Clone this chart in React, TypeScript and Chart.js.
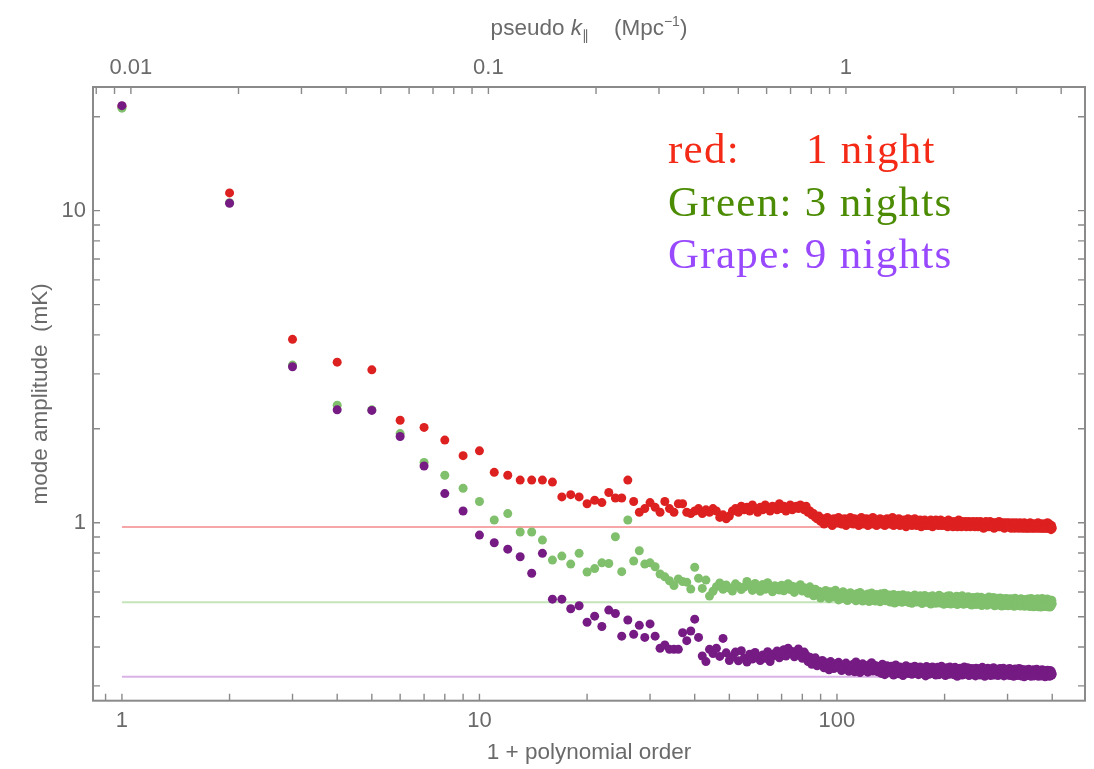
import React, { useEffect, useRef } from "react";
import { Chart, registerables } from "chart.js";

Chart.register(...registerables);

// mode amplitude (mK) for 1 + polynomial order = 1, 2, 3, ... 400
const RED_AMP = [
  21.6, 11.4, 3.87, 3.27, 3.09, 2.13, 2.02, 1.84, 1.64, 1.70,
  1.45, 1.42, 1.37, 1.37, 1.37, 1.35, 1.21, 1.23, 1.21, 1.15,
  1.18, 1.16, 1.25, 1.20, 1.20, 1.37, 1.17, 1.08, 1.11, 1.16,
  1.12, 1.08, 1.17, 1.11, 1.08, 1.15, 1.15, 1.08, 1.07,
  1.09, 1.11, 1.07, 1.10, 1.08, 1.11, 1.09, 1.04, 1.06, 1.03,
  1.05, 1.09, 1.11, 1.08, 1.13, 1.10, 1.12, 1.09, 1.14, 1.11,
  1.08, 1.12, 1.10, 1.14, 1.11, 1.09, 1.13, 1.12, 1.10, 1.15,
  1.11, 1.13, 1.09, 1.12, 1.14, 1.10, 1.12, 1.13, 1.11, 1.14,
  1.12, 1.10, 1.13, 1.08, 1.09, 1.06, 1.07, 1.04, 1.03, 1.05,
  1.01, 1.03, 0.99, 1.02, 1.04, 1.00, 1.02, 0.98, 1.03, 1.01,
  1.00, 1.04, 1.02, 0.99, 1.01, 1.03, 0.98, 1.02, 1.00, 1.04,
  1.01, 0.99, 1.03, 1.00, 1.02, 0.98, 1.01, 1.04, 0.99, 1.02,
  1.00, 1.03, 0.98, 1.01, 1.02, 0.99, 1.04, 1.00, 1.01, 0.98,
  1.02, 1.00, 1.03, 0.99, 1.01, 1.02, 0.98, 1.00, 1.03, 1.01,
  0.99, 1.02, 1.00, 1.04, 0.98, 1.01, 0.99, 1.02, 1.00, 1.03,
  0.98, 1.01, 1.00, 0.99, 1.02, 1.00, 0.97, 1.01, 1.03, 0.99,
  1.00, 1.02, 0.98, 1.01, 0.99, 1.03, 1.00, 0.98, 1.01, 1.00,
  0.99, 1.02, 0.97, 1.00, 1.01, 0.99, 1.02, 0.98, 1.00, 1.01,
  0.98, 1.01, 0.99, 1.02, 1.00, 0.97, 1.01, 0.99, 1.00, 1.02,
  0.99, 1.00, 0.98, 1.01, 0.99, 1.02, 0.98, 1.00, 1.01, 0.99,
  0.98, 1.01, 0.99, 1.00, 0.97, 1.02, 0.99, 0.98, 1.00, 1.01,
  0.99, 0.97, 1.00, 0.98, 1.01, 0.99, 1.00, 0.97, 0.99, 1.02,
  0.98, 1.00, 0.99, 0.97, 1.01, 0.98, 1.00, 0.99, 0.98, 1.01,
  0.97, 0.99, 1.00, 0.98, 1.01, 0.99, 0.97, 1.00, 0.98, 0.99,
  1.01, 0.98, 0.99, 0.97, 1.00, 0.98, 1.01, 0.99, 0.97, 1.00,
  0.98, 0.99, 1.01, 0.97, 0.99, 1.00, 0.98, 0.96, 1.00, 0.99,
  0.98, 1.01, 0.97, 0.99, 0.98, 1.00, 0.97, 0.99, 1.01, 0.98,
  0.99, 0.97, 1.00, 0.98, 0.99, 0.96, 1.00, 0.98, 0.99, 0.97,
  1.00, 0.98, 0.99, 0.97, 1.01, 0.98, 0.97, 0.99, 1.00, 0.98,
  0.97, 0.99, 0.98, 1.00, 0.96, 0.99, 0.98, 0.97, 1.00, 0.98,
  0.99, 0.97, 0.98, 1.00, 0.97, 0.99, 0.98, 0.96, 0.99, 0.98,
  1.00, 0.97, 0.99, 0.98, 0.96, 0.99, 0.97, 1.00, 0.98, 0.97,
  0.99, 0.98, 0.96, 0.99, 0.97, 1.00, 0.98, 0.97, 0.99, 0.96,
  0.98, 0.99, 0.97, 0.98, 1.00, 0.96, 0.98, 0.99, 0.97, 0.98,
  0.96, 0.99, 0.98, 0.97, 0.99, 0.96, 0.98, 1.00, 0.97, 0.98,
  0.99, 0.96, 0.98, 0.97, 0.99, 0.98, 0.96, 0.97, 0.99, 0.98,
  0.97, 0.99, 0.96, 0.98, 0.97, 1.00, 0.97, 0.98, 0.96, 0.99,
  0.98, 0.97, 0.99, 0.96, 0.98, 0.97, 0.99, 0.96, 0.98, 0.97,
  0.99, 0.97, 0.96, 0.98, 0.97, 0.99, 0.96, 0.98, 1.00, 0.97,
  0.96, 0.98, 0.97, 0.99, 0.96, 0.98, 0.97, 0.95, 0.98, 0.97,
  0.96,
];

const GREEN_AMP = [
  21.3, 10.6, 3.20, 2.38, 2.30, 1.93, 1.56, 1.42, 1.29, 1.17,
  1.02, 1.07, 0.934, 0.934, 0.88, 0.759, 0.782, 0.737, 0.798, 0.695,
  0.713, 0.744, 0.74, 0.902, 0.697, 1.02, 0.754, 0.813, 0.737, 0.744,
  0.723, 0.685, 0.671, 0.652, 0.629,
  0.66, 0.648, 0.645, 0.613, 0.72, 0.664, 0.616, 0.655, 0.582,
  0.603, 0.624, 0.641, 0.612, 0.632,
  0.618, 0.604, 0.637, 0.626, 0.611, 0.622, 0.648, 0.629, 0.607, 0.639,
  0.621, 0.603, 0.634, 0.612, 0.642, 0.619, 0.601, 0.628, 0.623, 0.609,
  0.631, 0.605, 0.617, 0.638, 0.611, 0.626, 0.598, 0.622, 0.613, 0.633,
  0.604, 0.619, 0.611, 0.594, 0.623, 0.601, 0.583, 0.612, 0.591, 0.603,
  0.574, 0.598, 0.582, 0.607, 0.589, 0.571, 0.601, 0.579, 0.593, 0.608,
  0.584, 0.566, 0.592, 0.571, 0.601, 0.578, 0.588, 0.563, 0.583, 0.597,
  0.572, 0.589, 0.578, 0.562, 0.593, 0.569, 0.598, 0.576, 0.561, 0.587,
  0.579, 0.568, 0.591, 0.559, 0.581, 0.596, 0.566, 0.577, 0.561, 0.589,
  0.571, 0.583, 0.558, 0.592, 0.567, 0.579, 0.594, 0.562, 0.576, 0.569,
  0.587, 0.557, 0.578, 0.566, 0.589, 0.553, 0.575, 0.568, 0.558, 0.586,
  0.569, 0.579, 0.556, 0.588, 0.565, 0.559, 0.577, 0.571, 0.584, 0.555,
  0.576, 0.566, 0.552, 0.581, 0.563, 0.587, 0.568, 0.557, 0.579, 0.572,
  0.558, 0.583, 0.567, 0.551, 0.576, 0.562, 0.585, 0.569, 0.556, 0.578,
  0.566, 0.555, 0.579, 0.549, 0.571, 0.584, 0.558, 0.575, 0.564, 0.552,
  0.577, 0.561, 0.568, 0.586, 0.553, 0.572, 0.579, 0.557, 0.567, 0.548,
  0.571, 0.578, 0.559, 0.551, 0.582, 0.566, 0.555, 0.584, 0.549, 0.569,
  0.562, 0.576, 0.568, 0.552, 0.574, 0.558, 0.581, 0.547, 0.567, 0.563,
  0.579, 0.551, 0.569, 0.557, 0.583, 0.565, 0.548, 0.572, 0.561, 0.577,
  0.553, 0.568, 0.559, 0.579, 0.562, 0.549, 0.571, 0.564, 0.545, 0.574,
  0.558, 0.576, 0.551, 0.567, 0.561, 0.547, 0.573, 0.578, 0.552, 0.563,
  0.569, 0.548, 0.562, 0.577, 0.543, 0.566, 0.571, 0.553, 0.568, 0.559,
  0.551, 0.572, 0.557, 0.544, 0.569, 0.561, 0.578, 0.549, 0.563, 0.567,
  0.552, 0.564, 0.571, 0.548, 0.576, 0.558, 0.542, 0.568, 0.561, 0.55,
  0.573, 0.557, 0.545, 0.569, 0.553, 0.562, 0.574, 0.546, 0.559, 0.541,
  0.565, 0.571, 0.549, 0.563, 0.543, 0.57, 0.556, 0.551, 0.572, 0.548,
  0.561, 0.542, 0.568, 0.553, 0.564, 0.547, 0.571, 0.544, 0.559, 0.552,
  0.569, 0.546, 0.562, 0.54, 0.557, 0.573, 0.549, 0.563, 0.545, 0.558,
  0.551, 0.567, 0.543, 0.56, 0.548, 0.565, 0.541, 0.571, 0.552, 0.559,
  0.544, 0.562, 0.55, 0.568, 0.553, 0.54, 0.563, 0.547, 0.558, 0.545,
  0.565, 0.549, 0.57, 0.542, 0.561, 0.551, 0.539, 0.566, 0.548, 0.572,
  0.547, 0.541, 0.563, 0.552, 0.569, 0.538, 0.555, 0.561, 0.543, 0.564,
  0.549, 0.567, 0.54, 0.556, 0.571, 0.546, 0.538, 0.562, 0.553, 0.541,
  0.565, 0.548, 0.537, 0.563, 0.551, 0.572, 0.54, 0.554, 0.566, 0.542,
  0.557, 0.562, 0.539, 0.551, 0.568, 0.543, 0.555, 0.57, 0.538, 0.552,
  0.563, 0.54, 0.556, 0.566, 0.537, 0.549, 0.561, 0.541, 0.553, 0.564,
  0.55,
];

const GRAPE_AMP = [
  21.7, 10.56, 3.16, 2.30, 2.29, 1.89, 1.52, 1.24, 1.09, 0.913,
  0.863, 0.823, 0.778, 0.689, 0.798, 0.569, 0.569, 0.530, 0.542, 0.480,
  0.502, 0.465, 0.525, 0.512, 0.433, 0.488, 0.439, 0.469, 0.429, 0.474,
  0.433, 0.396, 0.406, 0.393, 0.393, 0.393, 0.444, 0.419, 0.45, 0.491,
  0.429, 0.374, 0.359, 0.393, 0.381, 0.396, 0.373, 0.426, 0.383, 0.362,
  0.372, 0.385, 0.361, 0.389, 0.368, 0.358, 0.379, 0.366, 0.384,
  0.371, 0.362, 0.377, 0.368, 0.386, 0.359, 0.373, 0.381, 0.388, 0.369,
  0.378, 0.392, 0.374, 0.396, 0.381, 0.387, 0.372, 0.383, 0.394, 0.379,
  0.368, 0.385, 0.376, 0.359, 0.371, 0.352, 0.364, 0.369, 0.348, 0.357,
  0.351, 0.362, 0.343, 0.356, 0.349, 0.338, 0.359, 0.347, 0.341, 0.353,
  0.344, 0.357, 0.348, 0.336, 0.351, 0.342, 0.355, 0.339, 0.334, 0.349,
  0.341, 0.352, 0.333, 0.358, 0.343, 0.347, 0.331, 0.345, 0.353, 0.337,
  0.348, 0.339, 0.332, 0.351, 0.343, 0.356, 0.335, 0.341, 0.349, 0.338,
  0.333, 0.346, 0.34, 0.329, 0.352, 0.337, 0.326, 0.344, 0.348, 0.335,
  0.341, 0.331, 0.347, 0.338, 0.325, 0.343, 0.35, 0.334, 0.339, 0.328,
  0.345, 0.333, 0.34, 0.324, 0.342, 0.336, 0.348, 0.332, 0.329, 0.341,
  0.337, 0.344, 0.327, 0.339, 0.333, 0.347, 0.33, 0.336, 0.343, 0.326,
  0.338, 0.345, 0.331, 0.34, 0.328, 0.342, 0.335, 0.323, 0.346, 0.334,
  0.339, 0.327, 0.343, 0.332, 0.337, 0.345, 0.329, 0.336, 0.341, 0.325,
  0.333, 0.344, 0.338, 0.326, 0.34, 0.331, 0.347, 0.335, 0.328, 0.342,
  0.336, 0.324, 0.339, 0.343, 0.33, 0.337, 0.327, 0.345, 0.334, 0.329,
  0.341, 0.332, 0.326, 0.338, 0.344, 0.331, 0.335, 0.322, 0.339, 0.336,
  0.328, 0.342, 0.333, 0.337, 0.325, 0.34, 0.331, 0.345, 0.329, 0.336,
  0.338, 0.327, 0.343, 0.332, 0.324, 0.339, 0.335, 0.33, 0.341, 0.326,
  0.334, 0.34, 0.329, 0.337, 0.323, 0.342, 0.331, 0.336, 0.327, 0.339,
  0.333, 0.325, 0.341, 0.336, 0.329, 0.344, 0.328, 0.334, 0.338, 0.322,
  0.336, 0.33, 0.339, 0.326, 0.342, 0.333, 0.327, 0.337, 0.331, 0.324,
  0.34, 0.332, 0.328, 0.336, 0.343, 0.325, 0.335, 0.33, 0.338, 0.327,
  0.333, 0.339, 0.324, 0.331, 0.337, 0.329, 0.341, 0.326, 0.334, 0.336,
  0.328, 0.335, 0.342, 0.323, 0.331, 0.338, 0.327, 0.334, 0.33, 0.339,
  0.325, 0.333, 0.337, 0.329, 0.341, 0.324, 0.332, 0.336, 0.328, 0.335,
  0.331, 0.338, 0.322, 0.334, 0.329, 0.34, 0.326, 0.333, 0.337, 0.324,
  0.332, 0.328, 0.336, 0.341, 0.325, 0.331, 0.335, 0.323, 0.339, 0.33,
  0.327, 0.334, 0.329, 0.337, 0.321, 0.333, 0.338, 0.326, 0.331, 0.335,
  0.324, 0.336, 0.33, 0.328, 0.339, 0.325, 0.333, 0.329, 0.336, 0.322,
  0.331, 0.337, 0.326, 0.334, 0.329, 0.338, 0.323, 0.332, 0.335, 0.327,
  0.333, 0.325, 0.339, 0.328, 0.331, 0.336, 0.322, 0.334, 0.329, 0.337,
  0.326, 0.332, 0.335, 0.323, 0.33, 0.338, 0.327, 0.331, 0.334, 0.324,
  0.329, 0.336, 0.321, 0.333, 0.328, 0.335, 0.325, 0.331, 0.337, 0.326,
  0.332, 0.327, 0.334, 0.322, 0.33, 0.336, 0.324, 0.329, 0.333, 0.325,
  0.328,
];

// horizontal reference levels (mK): red, green, grape
const NOISE_LEVELS = [0.969, 0.556, 0.321];
const NOISE_X_RANGE = [1, 400];

const X_TICK_LABELS = [1, 10, 100];
const Y_TICK_LABELS = [1, 10];
const K_TICK_LABELS = [0.01, 0.1, 1];

const X_RANGE = [0.83, 494];
const Y_RANGE = [0.269, 24.9];
const K_PER_ORDER = 0.00944;

const LEGEND_LINES = [
  { left: "red:", right: "1 night", color: "#f42a17" },
  { left: "Green: 3 nights", right: "", color: "#4c8c04" },
  { left: "Grape: 9 nights", right: "", color: "#9848fd" },
];

const SANS = '"Liberation Sans", Arial, Helvetica, sans-serif';
const SERIF = '"Liberation Serif", "Times New Roman", serif';
const TEXT_GRAY = "#6a6a6a";
const FRAME_GRAY = "#8a8a8a";

function decadeTicks(min: number, max: number): number[] {
  const out: number[] = [];
  const d0 = Math.floor(Math.log10(min));
  const d1 = Math.ceil(Math.log10(max));
  for (let d = d0; d <= d1; d++) {
    for (let m = 1; m <= 9; m++) {
      const v = Number((m * Math.pow(10, d)).toPrecision(6));
      if (v >= min && v <= max) out.push(v);
    }
  }
  return out;
}

const labelIf = (labels: number[]) => (value: number) =>
  labels.some((l) => Math.abs(l - value) / l < 1e-6) ? String(value) : "";

const toPoints = (arr: number[]) => arr.map((y, i) => ({ x: i + 1, y }));
const levelLine = (y: number) => NOISE_X_RANGE.map((x) => ({ x, y }));

const framePlugin = {
  id: "mmaFrame",
  afterDraw(chart: any) {
    const { ctx, chartArea: a, scales } = chart;
    ctx.save();
    const L = 7;
    ctx.strokeStyle = FRAME_GRAY;
    ctx.lineWidth = 1.4;
    ctx.beginPath();
    const inside = (p: number, lo: number, hi: number) => p >= lo - 0.5 && p <= hi + 0.5;
    for (const t of scales.x.ticks) {
      const p = scales.x.getPixelForValue(t.value);
      if (!inside(p, a.left, a.right)) continue;
      ctx.moveTo(p, a.bottom);
      ctx.lineTo(p, a.bottom - L);
    }
    for (const t of scales.x2.ticks) {
      const p = scales.x2.getPixelForValue(t.value);
      if (!inside(p, a.left, a.right)) continue;
      ctx.moveTo(p, a.top);
      ctx.lineTo(p, a.top + L);
    }
    for (const t of scales.y.ticks) {
      const p = scales.y.getPixelForValue(t.value);
      if (!inside(p, a.top, a.bottom)) continue;
      ctx.moveTo(a.left, p);
      ctx.lineTo(a.left + L, p);
      ctx.moveTo(a.right, p);
      ctx.lineTo(a.right - L, p);
    }
    ctx.stroke();
    ctx.lineWidth = 2;
    ctx.strokeRect(a.left, a.top, a.right - a.left, a.bottom - a.top);

    // top axis title: pseudo k‖ (Mpc^-1)
    ctx.fillStyle = TEXT_GRAY;
    ctx.textBaseline = "alphabetic";
    ctx.textAlign = "left";
    const big = `22.5px ${SANS}`;
    const bigItalic = `italic 22.5px ${SANS}`;
    const small = `14px ${SANS}`;
    const pieces = [
      { t: "pseudo ", f: big, dy: 0 },
      { t: "k", f: bigItalic, dy: 0 },
      { t: "\u2225", f: small, dy: 5 },
      { t: "    (Mpc", f: big, dy: 0 },
      { t: "\u22121", f: small, dy: -9 },
      { t: ")", f: big, dy: 0 },
    ];
    let total = 0;
    for (const p of pieces) {
      ctx.font = p.f;
      total += ctx.measureText(p.t).width;
    }
    let x = (a.left + a.right) / 2 - total / 2;
    const base = 35;
    for (const p of pieces) {
      ctx.font = p.f;
      ctx.fillText(p.t, x, base + p.dy);
      x += ctx.measureText(p.t).width;
    }

    // legend text
    ctx.font = `43px ${SERIF}`;
    (ctx as any).letterSpacing = "1.3px";
    const baselines = [163, 216, 268];
    LEGEND_LINES.forEach((ln, i) => {
      ctx.fillStyle = ln.color;
      ctx.fillText(ln.left, 668, baselines[i]);
      if (ln.right) ctx.fillText(ln.right, 806, baselines[i]);
    });
    (ctx as any).letterSpacing = "0px";
    ctx.restore();
  },
};

export default function App() {
  const ref = useRef<HTMLCanvasElement | null>(null);

  useEffect(() => {
    if (!ref.current) return;
    const xTicks = decadeTicks(X_RANGE[0], X_RANGE[1]);
    const yTicks = decadeTicks(Y_RANGE[0], Y_RANGE[1]);
    const kMin = X_RANGE[0] * K_PER_ORDER;
    const kMax = X_RANGE[1] * K_PER_ORDER;
    const kTicks = decadeTicks(kMin, kMax);
    const tickFont = { family: SANS, size: 22 };
    const dot = { pointRadius: 4.5, pointBorderWidth: 0, borderWidth: 0 };

    const chart = new Chart(ref.current, {
      type: "scatter",
      data: {
        datasets: [
          {
            type: "line",
            data: levelLine(NOISE_LEVELS[0]),
            borderColor: "rgba(244,150,150,0.85)",
            borderWidth: 2,
            pointRadius: 0,
            showLine: true,
            order: 10,
          },
          {
            type: "line",
            data: levelLine(NOISE_LEVELS[1]),
            borderColor: "rgba(190,225,178,0.9)",
            borderWidth: 2,
            pointRadius: 0,
            showLine: true,
            order: 11,
          },
          {
            type: "line",
            data: levelLine(NOISE_LEVELS[2]),
            borderColor: "rgba(214,170,228,0.9)",
            borderWidth: 2,
            pointRadius: 0,
            showLine: true,
            order: 12,
          },
          { label: "red: 1 night", data: toPoints(RED_AMP), backgroundColor: "#dd2020", ...dot, order: 3 },
          { label: "Green: 3 nights", data: toPoints(GREEN_AMP), backgroundColor: "#80bf6c", ...dot, order: 2 },
          { label: "Grape: 9 nights", data: toPoints(GRAPE_AMP), backgroundColor: "#751b83", ...dot, order: 1 },
        ],
      } as any,
      options: {
        animation: false,
        responsive: false,
        layout: { padding: { left: 8, right: 9, top: 0, bottom: 0 } },
        plugins: { legend: { display: false }, tooltip: { enabled: false } },
        scales: {
          x: {
            type: "logarithmic",
            position: "bottom",
            min: X_RANGE[0],
            max: X_RANGE[1],
            grid: { display: false, drawTicks: false },
            border: { display: false },
            ticks: {
              autoSkip: false,
              maxRotation: 0,
              padding: 7,
              color: TEXT_GRAY,
              font: tickFont,
              callback: labelIf(X_TICK_LABELS),
            },
            title: {
              display: true,
              text: "1 + polynomial order",
              color: TEXT_GRAY,
              font: { family: SANS, size: 22.5 },
              padding: { top: 0, bottom: 3 },
            },
            afterBuildTicks: (s: any) => {
              s.ticks = xTicks.map((v) => ({ value: v }));
            },
            afterFit: (s: any) => {
              s.height = 68.3;
            },
          },
          x2: {
            type: "logarithmic",
            position: "top",
            min: kMin,
            max: kMax,
            grid: { display: false, drawTicks: false },
            border: { display: false },
            ticks: {
              autoSkip: false,
              maxRotation: 0,
              padding: 6,
              color: TEXT_GRAY,
              font: tickFont,
              callback: labelIf(K_TICK_LABELS),
            },
            afterBuildTicks: (s: any) => {
              s.ticks = kTicks.map((v) => ({ value: v }));
            },
            afterFit: (s: any) => {
              s.height = 87;
            },
          },
          y: {
            type: "logarithmic",
            position: "left",
            min: Y_RANGE[0],
            max: Y_RANGE[1],
            grid: { display: false, drawTicks: false },
            border: { display: false },
            ticks: {
              autoSkip: false,
              padding: 7,
              color: TEXT_GRAY,
              font: tickFont,
              callback: labelIf(Y_TICK_LABELS),
            },
            title: {
              display: true,
              text: "mode amplitude  (mK)",
              color: TEXT_GRAY,
              font: { family: SANS, size: 22.5 },
              padding: { top: 19, bottom: 0 },
            },
            afterBuildTicks: (s: any) => {
              s.ticks = yTicks.map((v) => ({ value: v }));
            },
            afterFit: (s: any) => {
              s.width = 85;
            },
          },
        },
      } as any,
      plugins: [framePlugin],
    });
    return () => chart.destroy();
  }, []);

  return (
    <div style={{ position: "absolute", left: 0, top: 0, width: 1094, height: 769, background: "#fff" }}>
      <canvas ref={ref} width={1094} height={769} style={{ display: "block", width: 1094, height: 769 }} />
    </div>
  );
}
